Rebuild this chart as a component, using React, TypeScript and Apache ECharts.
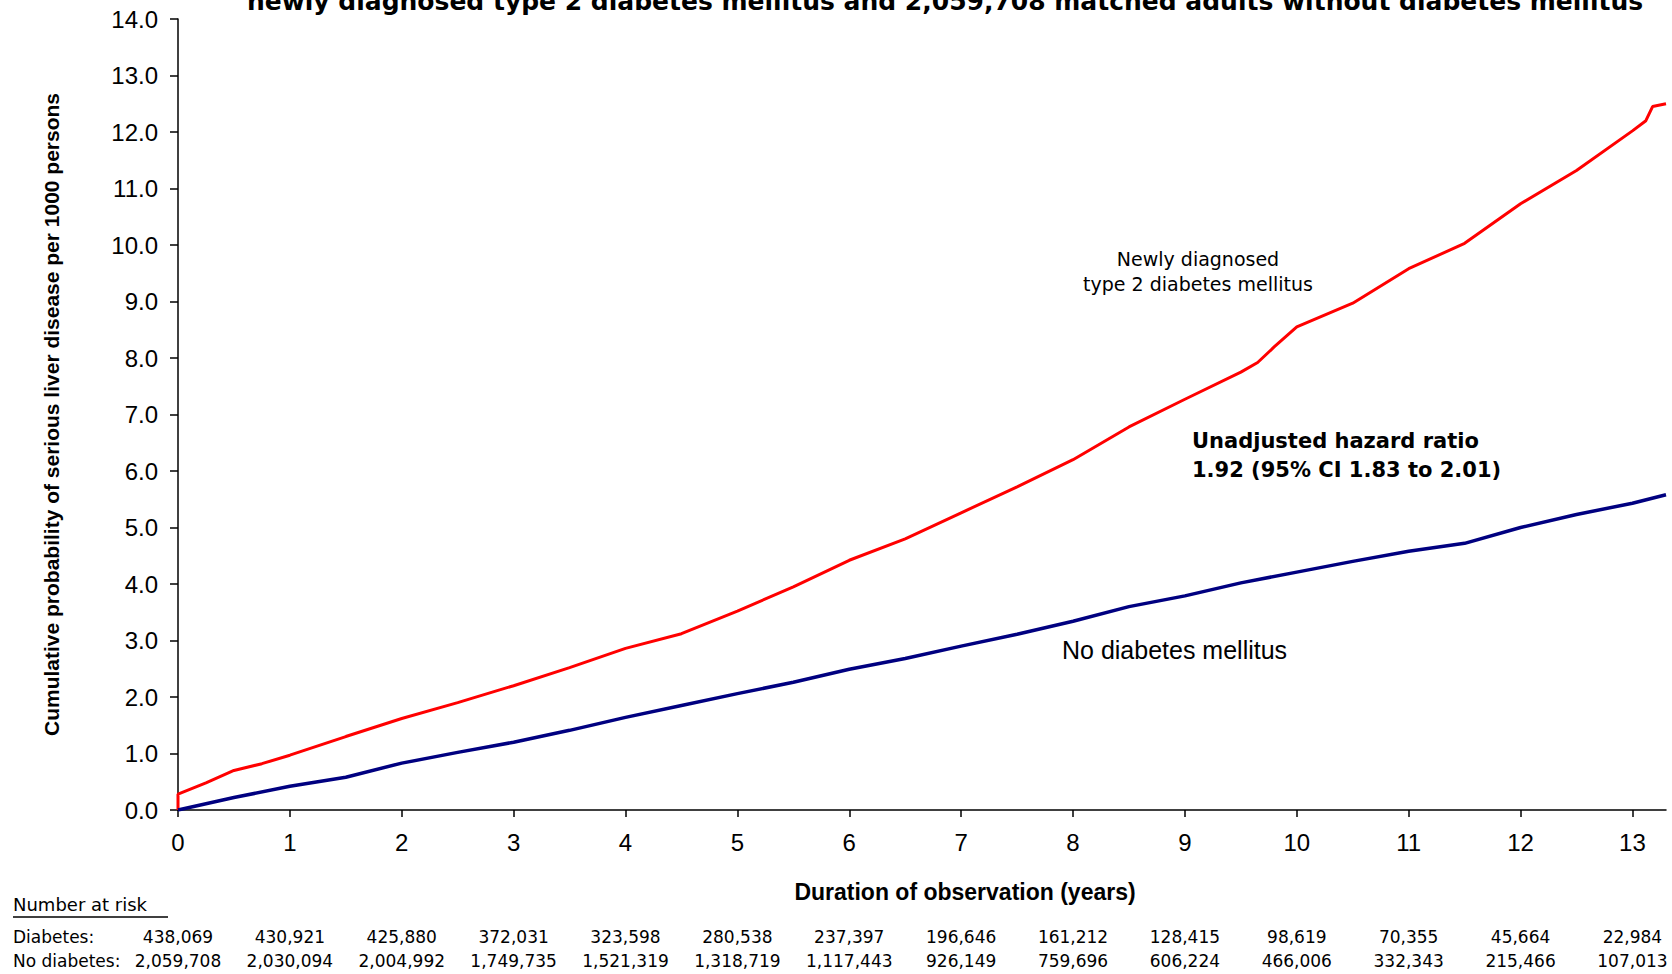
import React, { useEffect, useRef } from "react";
import * as echarts from "echarts";

const xTicks = [0, 1, 2, 3, 4, 5, 6, 7, 8, 9, 10, 11, 12, 13];

const diabetesTime = [0, 0, 0.25, 0.5, 0.75, 1, 1.5, 2, 2.5, 3, 3.5, 4, 4.5, 5, 5.5, 6, 6.5, 7, 7.5, 8, 8.5, 9, 9.5, 9.65, 9.8, 10, 10.5, 11, 11.5, 12, 12.5, 13, 13.12, 13.18, 13.3];
const diabetesCum = [0, 0.28, 0.48, 0.7, 0.82, 0.97, 1.3, 1.62, 1.9, 2.2, 2.52, 2.86, 3.12, 3.52, 3.95, 4.42, 4.8, 5.26, 5.72, 6.2, 6.78, 7.27, 7.75, 7.92, 8.2, 8.55, 8.97, 9.58, 10.03, 10.73, 11.32, 12.02, 12.2, 12.45, 12.5];

const noDiabetesTime = [0, 0.5, 1, 1.5, 2, 2.5, 3, 3.5, 4, 4.5, 5, 5.5, 6, 6.5, 7, 7.5, 8, 8.5, 9, 9.5, 10, 10.5, 11, 11.5, 12, 12.5, 13, 13.3];
const noDiabetesCum = [0, 0.22, 0.42, 0.58, 0.83, 1.02, 1.2, 1.41, 1.64, 1.85, 2.06, 2.26, 2.49, 2.68, 2.9, 3.11, 3.34, 3.6, 3.79, 4.02, 4.21, 4.4, 4.58, 4.72, 5.0, 5.23, 5.43, 5.58];

const diabetesAtRisk = ["438,069", "430,921", "425,880", "372,031", "323,598", "280,538", "237,397", "196,646", "161,212", "128,415", "98,619", "70,355", "45,664", "22,984"];
const noDiabetesAtRisk = ["2,059,708", "2,030,094", "2,004,992", "1,749,735", "1,521,319", "1,318,719", "1,117,443", "926,149", "759,696", "606,224", "466,006", "332,343", "215,466", "107,013"];

const titleLine = "newly diagnosed type 2 diabetes mellitus and 2,059,708 matched adults without diabetes mellitus";
const yTitle = "Cumulative probability of serious liver disease per 1000 persons";
const xTitle = "Duration of observation (years)";

const SANS = "'Liberation Sans', Arial, sans-serif";
const DJ = "'DejaVu Sans', Verdana, sans-serif";

export default function App() {
  const ref = useRef<HTMLDivElement>(null);
  useEffect(() => {
    if (!ref.current) return;
    const chart = echarts.init(ref.current, null, { renderer: "svg" });
    const riskAxis = (labels: string[], offset: number) => ({
      type: "value",
      min: 0,
      max: 13.3,
      position: "bottom",
      offset,
      axisLine: { show: false },
      axisTick: { show: false },
      splitLine: { show: false },
      axisLabel: {
        customValues: xTicks,
        margin: 0,
        fontFamily: DJ,
        fontSize: 17,
        color: "#000",
        formatter: (v: number) => labels[Math.round(v)] ?? "",
      },
    });
    chart.setOption({
      animation: false,
      backgroundColor: "#fff",
      grid: { left: 178, right: 6, top: 19, bottom: 164, containLabel: false },
      xAxis: [
        {
          type: "value",
          min: 0,
          max: 13.3,
          interval: 1,
          axisLine: { show: true, lineStyle: { color: "#000", width: 1.5 } },
          axisTick: { show: true, customValues: xTicks, length: 7, lineStyle: { color: "#000", width: 1.5 } },
          splitLine: { show: false },
          axisLabel: {
            customValues: xTicks,
            margin: 20,
            fontFamily: SANS,
            fontSize: 24,
            color: "#000",
            formatter: (v: number) => String(v),
          },
        },
        riskAxis(diabetesAtRisk, 118),
        riskAxis(noDiabetesAtRisk, 142),
      ],
      yAxis: {
        type: "value",
        min: 0,
        max: 14,
        interval: 1,
        axisLine: { show: true, lineStyle: { color: "#000", width: 1.5 } },
        axisTick: { show: true, length: 8, lineStyle: { color: "#000", width: 1.5 } },
        splitLine: { show: false },
        axisLabel: {
          margin: 20,
          fontFamily: SANS,
          fontSize: 24,
          color: "#000",
          formatter: (v: number) => v.toFixed(1),
        },
        name: yTitle,
        nameLocation: "middle",
        nameRotate: 90,
        nameGap: 116,
        nameTextStyle: { fontFamily: SANS, fontWeight: "bold", fontSize: 21, color: "#000" },
      },
      series: [
        {
          name: "Newly diagnosed type 2 diabetes mellitus",
          type: "line",
          xAxisIndex: 0,
          showSymbol: false,
          data: diabetesTime.map((t, i) => [t, diabetesCum[i]]),
          lineStyle: { color: "#ff0000", width: 3 },
          itemStyle: { color: "#ff0000" },
        },
        {
          name: "No diabetes mellitus",
          type: "line",
          xAxisIndex: 0,
          showSymbol: false,
          data: noDiabetesTime.map((t, i) => [t, noDiabetesCum[i]]),
          lineStyle: { color: "#000080", width: 3.5 },
          itemStyle: { color: "#000080" },
        },
      ],
      graphic: [
        {
          type: "text",
          x: 945,
          y: 1,
          style: { text: titleLine, fontFamily: DJ, fontWeight: "bold", fontSize: 25, fill: "#000", align: "center", verticalAlign: "middle" },
        },
        {
          type: "text",
          x: 965,
          y: 892,
          style: { text: xTitle, fontFamily: SANS, fontWeight: "bold", fontSize: 23, fill: "#000", align: "center", verticalAlign: "middle" },
        },
        {
          type: "text",
          x: 1198,
          y: 259,
          style: { text: "Newly diagnosed", fontFamily: DJ, fontSize: 19, fill: "#000", align: "center", verticalAlign: "middle" },
        },
        {
          type: "text",
          x: 1198,
          y: 284,
          style: { text: "type 2 diabetes mellitus", fontFamily: DJ, fontSize: 19, fill: "#000", align: "center", verticalAlign: "middle" },
        },
        {
          type: "text",
          x: 1192,
          y: 441,
          style: { text: "Unadjusted hazard ratio", fontFamily: DJ, fontWeight: "bold", fontSize: 21, fill: "#000", align: "left", verticalAlign: "middle" },
        },
        {
          type: "text",
          x: 1192,
          y: 470,
          style: { text: "1.92 (95% CI 1.83 to 2.01)", fontFamily: DJ, fontWeight: "bold", fontSize: 21, fill: "#000", align: "left", verticalAlign: "middle" },
        },
        {
          type: "text",
          x: 1062,
          y: 650,
          style: { text: "No diabetes mellitus", fontFamily: SANS, fontSize: 25, fill: "#000", align: "left", verticalAlign: "middle" },
        },
        {
          type: "text",
          x: 13,
          y: 904,
          style: { text: "Number at risk", fontFamily: DJ, fontSize: 18, fill: "#000", align: "left", verticalAlign: "middle" },
        },
        {
          type: "line",
          shape: { x1: 13, y1: 917, x2: 168, y2: 917 },
          style: { stroke: "#000", lineWidth: 1.5 },
        },
        {
          type: "text",
          x: 13,
          y: 937,
          style: { text: "Diabetes:", fontFamily: DJ, fontSize: 17, fill: "#000", align: "left", verticalAlign: "middle" },
        },
        {
          type: "text",
          x: 13,
          y: 961,
          style: { text: "No diabetes:", fontFamily: DJ, fontSize: 17, fill: "#000", align: "left", verticalAlign: "middle" },
        },
      ],
    });
    return () => chart.dispose();
  }, []);
  return <div ref={ref} style={{ position: "fixed", left: 0, top: 0, width: 1672, height: 974, background: "#fff" }} />;
}
